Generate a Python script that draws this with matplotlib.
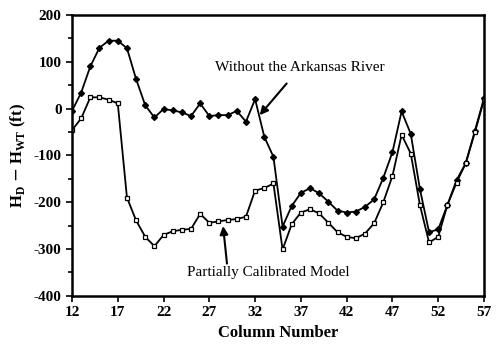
import matplotlib
matplotlib.use('Agg')
import matplotlib.pyplot as plt
from matplotlib.ticker import MultipleLocator

plt.rcParams['font.family'] = ['Liberation Serif', 'DejaVu Serif']
plt.rcParams['axes.unicode_minus'] = False

columns = list(range(12, 58))

without_arkansas = [-5, 34, 90, 130, 145, 145, 129, 63, 7, -19, -1, -4, -8, -16, 11,
                    -16, -14, -14, -5, -28, 20, -60, -103, -252, -208, -180, -170,
                    -181, -199, -218, -222, -220, -210, -194, -148, -93, -6, -54,
                    -172, -264, -258, -206, -153, -117, -48, 22]

partially_calibrated = [-46, -21, 24, 24, 19, 11, -190, -239, -274, -294, -270, -262,
                        -259, -257, -225, -244, -241, -238, -236, -231, -175, -170,
                        -160, -301, -247, -222, -215, -224, -244, -264, -274, -277,
                        -267, -245, -200, -144, -56, -96, -206, -286, -274, -206,
                        -158, -117, -51, 19]

xticks = [12, 17, 22, 27, 32, 37, 42, 47, 52, 57]

fig = plt.figure(figsize=(5, 3.56), dpi=100)
ax = fig.add_axes([0.144, 0.169, 0.824, 0.789])

ax.plot(columns, without_arkansas, color='black', lw=1.3, marker='D', ms=3,
        mfc='black', mec='black')
ax.plot(columns, partially_calibrated, color='black', lw=1.3, marker='s', ms=3.2,
        mfc='white', mec='black', mew=0.9)

ax.set_xlim(12, 57)
ax.set_ylim(-400, 200)
ax.set_xticks(xticks)
ax.yaxis.set_major_locator(MultipleLocator(100))
ax.yaxis.set_minor_locator(MultipleLocator(50))
ax.tick_params(axis='both', which='both', direction='out', width=1.2)
ax.tick_params(axis='both', which='major', length=4, labelsize=11)
ax.tick_params(axis='y', which='minor', length=3)
for lab in ax.get_xticklabels() + ax.get_yticklabels():
    lab.set_fontweight('bold')
for sp in ax.spines.values():
    sp.set_linewidth(1.8)

ax.set_xlabel('Column Number', fontsize=12, fontweight='bold')
ax.set_ylabel(r'H$_\mathregular{D}$ $-$ H$_\mathregular{WT}$ (ft)', fontsize=12,
              fontweight='bold')

ax.annotate('Without the Arkansas River', xy=(32.5, -14), xytext=(36.9, 87),
            ha='center', va='center', fontsize=11,
            arrowprops=dict(arrowstyle='-|>', color='black', lw=1.5,
                            mutation_scale=12, shrinkA=6, shrinkB=0))
ax.annotate('Partially Calibrated Model', xy=(28.5, -251), xytext=(33.4, -351),
            ha='center', va='center', fontsize=11,
            arrowprops=dict(arrowstyle='-|>', color='black', lw=1.5,
                            mutation_scale=12, shrinkA=0, shrinkB=0,
                            relpos=(0.25, 1.0)))

fig.savefig('out.png', dpi=100)
